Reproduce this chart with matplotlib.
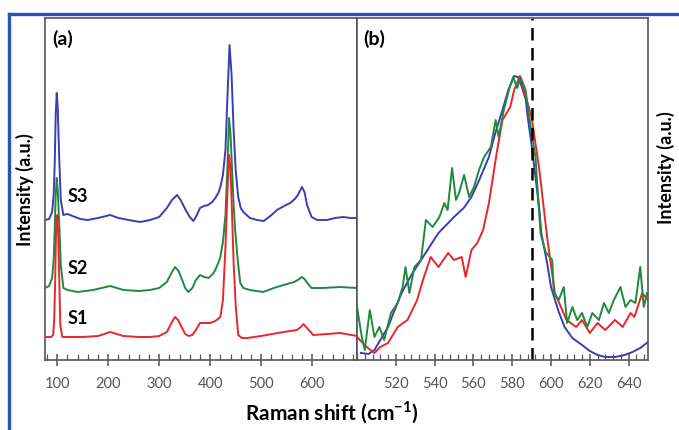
import matplotlib.pyplot as plt
from matplotlib.lines import Line2D
from matplotlib.ticker import MultipleLocator

# ---- panel (a): full spectra, offset (arbitrary units) ----
s3_x = [76, 84, 90, 93, 95, 97, 99, 101, 104, 107, 112, 120, 130, 145, 160, 180, 204, 220,
        240, 263, 282, 300, 315, 325, 335, 342, 352, 360, 367, 374, 380, 388, 396, 404,
        410, 416, 420, 425, 430, 434, 438, 442, 446, 450, 455, 460, 465, 478, 492, 505,
        518, 531, 545, 557, 566, 572, 577, 580, 585, 590, 599, 610, 629, 645, 661, 675, 688]
s3_y = [140, 141, 148, 165, 195, 245, 267, 252, 200, 160, 145, 146, 144, 141, 140, 142, 145,
        142, 140, 138, 140, 143, 152, 160, 165, 160, 150, 143, 139, 145, 152, 154, 155, 158,
        162, 167, 173, 185, 210, 265, 315, 285, 230, 190, 163, 152, 148, 142, 140, 139,
        144, 150, 154, 157, 161, 165, 170, 173, 168, 155, 143, 140, 140, 142, 143, 142, 142]

s2_x = [76, 84, 90, 93, 95, 97, 99, 101, 104, 107, 112, 120, 140, 170, 204, 230, 260, 282,
        300, 315, 325, 331, 338, 345, 351, 357, 365, 372, 380, 388, 397, 405, 410, 415, 420,
        425, 430, 434, 437, 440, 443, 446, 449, 454, 459, 465, 478, 504, 525, 544, 565,
        575, 580, 585, 592, 599, 620, 655, 688]
s2_y = [72, 74, 82, 100, 130, 165, 182, 170, 135, 95, 72, 70, 68, 70, 74, 70, 69, 70,
        72, 78, 88, 93, 89, 80, 72, 68, 72, 80, 85, 83, 82, 86, 90, 96, 103,
        118, 145, 195, 242, 225, 190, 155, 130, 100, 77, 72, 70, 68, 72, 75, 78,
        81, 83, 81, 76, 72, 72, 73, 72]

s1_x = [76, 88, 92, 94, 96, 98, 100, 102, 104, 106, 110, 130, 150, 180, 204, 230, 260, 282,
        300, 315, 325, 331, 337, 342, 351, 358, 365, 372, 380, 390, 400, 410, 420, 425, 430,
        434, 437, 440, 442, 446, 450, 455, 462, 472, 500, 544, 570, 578, 583, 590, 602, 630,
        655, 688]
s1_y = [23, 23, 25, 40, 80, 140, 145, 125, 80, 35, 23, 23, 23, 24, 28, 24, 23, 23,
        24, 28, 38, 43, 40, 35, 26, 24, 25, 30, 37, 37, 37, 39, 43, 60, 113,
        170, 205, 190, 160, 97, 55, 25, 22, 22, 24, 28, 30, 33, 36, 32, 25, 26,
        27, 24]

# ---- panel (b): zoom on the 500-650 cm-1 band ----
b_s3_x = [502, 506, 509, 512, 516, 519, 523, 528, 533, 538, 542, 546, 550, 555, 559, 563,
          568, 571, 575, 578, 581, 583, 585, 587, 588, 590, 592, 594, 595, 598, 600, 604,
          607, 611, 616, 620, 624, 628, 633, 638, 642, 646, 650]
b_s3_y = [7, 6, 10, 20, 33, 48, 67, 85, 100, 115, 127, 135, 143, 152, 163, 180,
          203, 225, 250, 270, 284, 283, 273, 260, 243, 215, 183, 150, 127, 97, 73, 48,
          33, 22, 15, 9, 5, 3, 3, 5, 8, 12, 18]

b_s1_x = [500, 505, 509, 512, 516, 521, 526, 531, 534, 538, 542, 547, 550, 554, 556, 559,
          562, 565, 568, 572, 575, 579, 581, 584, 586, 590, 594, 598, 602, 608, 613, 616,
          620, 624, 628, 633, 637, 641, 643, 647, 650]
b_s1_y = [23, 13, 7, 13, 17, 33, 40, 60, 80, 103, 93, 107, 100, 103, 83, 110,
          117, 130, 157, 207, 240, 253, 270, 284, 270, 243, 190, 123, 67, 40, 33, 40,
          27, 37, 30, 40, 33, 47, 43, 67, 60]

b_s2_x = [500, 502.5, 504, 506.6, 509, 511.5, 514, 517.5, 521, 523.5, 525, 527, 529.6, 533,
          535.5, 539, 542.5, 545, 546.7, 549, 551, 552.6, 555.2, 557.8, 560.3, 562.9, 565.5,
          569, 571.5, 573, 575.7, 578.3, 580.5, 582.6, 584.3, 586.9, 589.5, 592, 594.6,
          597.2, 600.6, 601.5, 604, 606.6, 608.3, 611, 613.5, 616, 618.7, 621.3, 624.7,
          627.3, 629.8, 632.4, 635.8, 638.4, 641, 643.5, 646, 647.8, 649.5]
b_s2_y = [53, 23, 10, 50, 23, 33, 20, 47, 57, 73, 93, 67, 93, 100,
          140, 133, 143, 157, 150, 192, 160, 167, 185, 163, 173, 190, 203,
          213, 240, 223, 250, 270, 283, 272, 283, 270, 233, 203, 127,
          108, 100, 67, 60, 73, 37, 53, 40, 47, 33, 47, 40,
          57, 47, 60, 73, 53, 60, 57, 93, 53, 67]

a_ticks = [100, 200, 300, 400, 500, 600]
b_ticks = [520, 540, 560, 580, 600, 620, 640]
dash_pos = 590

blue = '#3b3db4'
green = '#1f8a3e'
red = '#e8262c'
grey = '#555555'

plt.rcParams['font.family'] = ['Lato', 'DejaVu Sans']
plt.rcParams['mathtext.fontset'] = 'custom'
plt.rcParams['mathtext.rm'] = 'Lato'
plt.rcParams['mathtext.bf'] = 'Lato:bold'

fig = plt.figure(figsize=(6.79, 4.30), dpi=100)
ax_a = fig.add_axes([45 / 679, 1 - 360 / 430, 312 / 679, 342 / 430])
ax_b = fig.add_axes([357 / 679, 1 - 360 / 430, 291 / 679, 342 / 430])

line_kw = dict(lw=1.4, solid_joinstyle='round')
ax_a.plot(s3_x, s3_y, color=blue, **line_kw)
ax_a.plot(s2_x, s2_y, color=green, **line_kw)
ax_a.plot(s1_x, s1_y, color=red, **line_kw)
ax_a.set_xlim(76, 688)
ax_a.set_ylim(0, 342)
ax_a.set_xticks(a_ticks)
ax_a.xaxis.set_minor_locator(MultipleLocator(20))
ax_a.text(121, 164, 'S3', fontsize=13, fontweight='bold', va='center')
ax_a.text(121, 92, 'S2', fontsize=13, fontweight='bold', va='center')
ax_a.text(121, 42, 'S1', fontsize=13, fontweight='bold', va='center')
ax_a.text(0.022, 0.965, '(a)', transform=ax_a.transAxes, fontsize=14,
          fontweight='bold', va='top')

ax_b.plot(b_s3_x, b_s3_y, color=blue, **line_kw)
ax_b.plot(b_s1_x, b_s1_y, color=red, **line_kw)
ax_b.plot(b_s2_x, b_s2_y, color=green, **line_kw)
ax_b.axvline(dash_pos, color='black', lw=1.8, ls=(0, (5, 3)))
ax_b.set_xlim(500, 650)
ax_b.set_ylim(0, 342)
ax_b.set_xticks(b_ticks)
ax_b.xaxis.set_minor_locator(MultipleLocator(4))
ax_b.text(0.02, 0.965, '(b)', transform=ax_b.transAxes, fontsize=14,
          fontweight='bold', va='top')

for ax in (ax_a, ax_b):
    ax.set_yticks([])
    for sp in ax.spines.values():
        sp.set_color(grey)
        sp.set_linewidth(1.2)
    ax.tick_params(axis='x', which='major', direction='inout', length=8,
                   width=1.1, color=grey, labelcolor=grey, labelsize=10.5, pad=8)
    ax.tick_params(axis='x', which='minor', direction='in', length=4,
                   width=0.9, color=grey)

fig.text(25 / 679, 1 - 190 / 430, 'Intensity (a.u.)', rotation=90, fontsize=13,
         fontweight='bold', ha='center', va='center')
fig.text(666 / 679, 1 - 168 / 430, 'Intensity (a.u.)', rotation=90, fontsize=13,
         fontweight='bold', ha='center', va='center')
fig.text(332 / 679, 1 - 413 / 430, r'Raman shift (cm$^{\mathbf{-1}}$)', fontsize=15,
         fontweight='bold', ha='center', va='center')

# blue border frame
fig.add_artist(Line2D([9 / 679, 9 / 679], [0, 1 - 14 / 430], color='#2b52b8', lw=2.4,
                      transform=fig.transFigure))
fig.add_artist(Line2D([9 / 679, 1], [1 - 14 / 430, 1 - 14 / 430], color='#2b52b8', lw=2.4,
                      transform=fig.transFigure))

fig.savefig('out.png', dpi=100)
